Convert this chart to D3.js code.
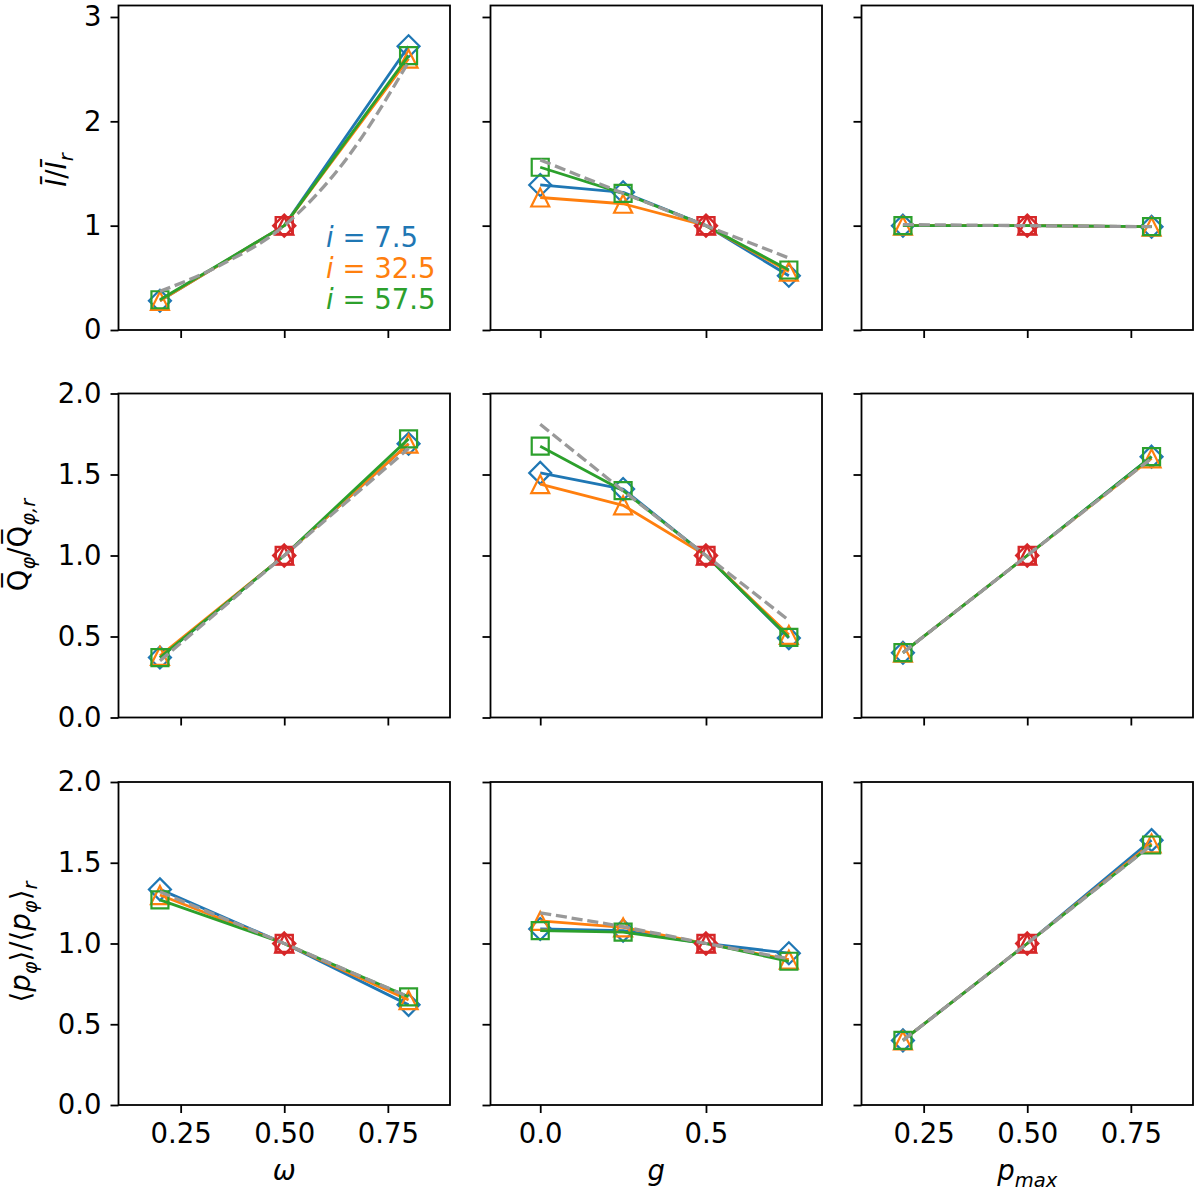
<!DOCTYPE html>
<html><head><meta charset="utf-8">
<script src="https://cdn.jsdelivr.net/npm/d3@7"></script>
<style>
body{margin:0;background:#fff}
text{font-family:"DejaVu Sans",sans-serif;fill:#000}
</style>
</head><body>
<svg id="chart" width="1200" height="1196"></svg>
<script>
// ---------------- DATA ----------------
const omegaX = [0.2, 0.5, 0.8];
const gX = [0.0, 0.25, 0.5, 0.75];
const pmaxX = [0.2, 0.5, 0.8];
const omegaModelX = [0.2, 0.35, 0.5, 0.65, 0.8];

const inclinationLabels = ["7.5", "32.5", "57.5"];
const referenceX = [0.5, 0.5, 0.5];
const referenceY = 1.0;

// Row 1: I / I_r
const I_omega_i1 = [0.28, 1.0, 2.72];
const I_omega_i2 = [0.28, 1.0, 2.60];
const I_omega_i3 = [0.29, 1.0, 2.63];
const I_omega_model = [0.37, 0.63, 1.0, 1.64, 2.57];
const I_g_i1 = [1.39, 1.32, 1.0, 0.52];
const I_g_i2 = [1.27, 1.21, 1.0, 0.56];
const I_g_i3 = [1.56, 1.31, 1.0, 0.575];
const I_g_model = [1.63, 1.31, 1.0, 0.69];
const I_pmax_i1 = [1.0, 1.0, 0.99];
const I_pmax_i2 = [1.0, 1.0, 0.99];
const I_pmax_i3 = [1.0, 1.0, 0.99];
const I_pmax_model = [1.01, 1.0, 0.99];

// Row 2: Q_phi / Q_phi,r
const Q_omega_i1 = [0.37, 1.0, 1.69];
const Q_omega_i2 = [0.38, 1.0, 1.69];
const Q_omega_i3 = [0.37, 1.0, 1.72];
const Q_omega_model = [0.35, 1.0, 1.66];
const Q_g_i1 = [1.51, 1.41, 1.0, 0.49];
const Q_g_i2 = [1.44, 1.31, 1.0, 0.51];
const Q_g_i3 = [1.675, 1.40, 1.0, 0.495];
const Q_g_model = [1.81, 1.40, 1.0, 0.60];
const Q_pmax_i1 = [0.40, 1.0, 1.61];
const Q_pmax_i2 = [0.40, 1.0, 1.60];
const Q_pmax_i3 = [0.40, 1.0, 1.61];
const Q_pmax_model = [0.40, 1.0, 1.60];

// Row 3: <p_phi> / <p_phi>_r
const p_omega_i1 = [1.335, 1.0, 0.62];
const p_omega_i2 = [1.30, 1.0, 0.65];
const p_omega_i3 = [1.27, 1.0, 0.67];
const p_omega_model = [1.32, 1.0, 0.67];
const p_g_i1 = [1.09, 1.08, 1.0, 0.94];
const p_g_i2 = [1.14, 1.10, 1.0, 0.90];
const p_g_i3 = [1.08, 1.07, 1.0, 0.89];
const p_g_model = [1.19, 1.105, 1.0, 0.905];
const p_pmax_i1 = [0.40, 1.0, 1.64];
const p_pmax_i2 = [0.40, 1.0, 1.62];
const p_pmax_i3 = [0.40, 1.0, 1.61];
const p_pmax_model = [0.40, 1.0, 1.61];

// Axis ticks
const xTickValues = [[0.25, 0.5, 0.75], [0.0, 0.5], [0.25, 0.5, 0.75]];
const xTickLabels = [["0.25", "0.50", "0.75"], ["0.0", "0.5"], ["0.25", "0.50", "0.75"]];
const yTickValues = [[0, 1, 2, 3], [0, 0.5, 1, 1.5, 2], [0, 0.5, 1, 1.5, 2]];
const yTickLabels = [["0", "1", "2", "3"], ["0.0", "0.5", "1.0", "1.5", "2.0"], ["0.0", "0.5", "1.0", "1.5", "2.0"]];
const xDomains = [[0.1, 0.9], [-0.15, 0.85], [0.1, 0.9]];
const yDomains = [[0, 3.11], [0, 2], [0, 2]];

// ---------------- STYLE / LAYOUT ----------------
const colors = ["#1f77b4", "#ff7f0e", "#2ca02c"];
const refColor = "#d62728";
const modelColor = "#999999";
const colLeft = [118.5, 490.5, 861.5];
const colW = 331.5;
const rowTop = [5.5, 393.5, 782];
const rowH = [324.5, 324, 323];
const FS = 27.5;

const panels = [
  [ {x: omegaX, s: [I_omega_i1, I_omega_i2, I_omega_i3], mx: omegaModelX, m: I_omega_model, smooth: true},
    {x: gX, s: [I_g_i1, I_g_i2, I_g_i3], mx: gX, m: I_g_model},
    {x: pmaxX, s: [I_pmax_i1, I_pmax_i2, I_pmax_i3], mx: pmaxX, m: I_pmax_model} ],
  [ {x: omegaX, s: [Q_omega_i1, Q_omega_i2, Q_omega_i3], mx: omegaX, m: Q_omega_model},
    {x: gX, s: [Q_g_i1, Q_g_i2, Q_g_i3], mx: gX, m: Q_g_model},
    {x: pmaxX, s: [Q_pmax_i1, Q_pmax_i2, Q_pmax_i3], mx: pmaxX, m: Q_pmax_model} ],
  [ {x: omegaX, s: [p_omega_i1, p_omega_i2, p_omega_i3], mx: omegaX, m: p_omega_model},
    {x: gX, s: [p_g_i1, p_g_i2, p_g_i3], mx: gX, m: p_g_model},
    {x: pmaxX, s: [p_pmax_i1, p_pmax_i2, p_pmax_i3], mx: pmaxX, m: p_pmax_model} ]
];

function markerPath(kind, cx, cy) {
  if (kind === 0) { const h = 11; return `M${cx},${cy-h}L${cx+h},${cy}L${cx},${cy+h}L${cx-h},${cy}Z`; }
  if (kind === 1) { const h = 9; return `M${cx},${cy-h}L${cx+h},${cy+h}L${cx-h},${cy+h}Z`; }
  const h = 8.5; return `M${cx-h},${cy-h}L${cx+h},${cy-h}L${cx+h},${cy+h}L${cx-h},${cy+h}Z`;
}

const svg = d3.select("#chart");

panels.forEach((row, r) => {
  row.forEach((p, c) => {
    const W = colW, H = rowH[r];
    const g = svg.append("g").attr("transform", `translate(${colLeft[c]},${rowTop[r]})`);
    const x = d3.scaleLinear().domain(xDomains[c]).range([0, W]);
    const y = d3.scaleLinear().domain(yDomains[r]).range([H, 0]);

    const ax = g.append("g").attr("transform", `translate(0,${H})`)
      .call(d3.axisBottom(x).tickValues(xTickValues[c]).tickSize(8).tickPadding(10)
        .tickFormat((d, i) => r === 2 ? xTickLabels[c][i] : ""));
    const ay = g.append("g")
      .call(d3.axisLeft(y).tickValues(yTickValues[r]).tickSize(8).tickPadding(9)
        .tickFormat((d, i) => c === 0 ? yTickLabels[r][i] : ""));
    [ax, ay].forEach(a => {
      a.select(".domain").remove();
      a.selectAll(".tick line").attr("stroke", "#000").attr("stroke-width", 1.8);
      a.selectAll(".tick text").attr("font-size", FS).attr("font-family", "DejaVu Sans").attr("fill", "#000");
    });

    p.s.forEach((vals, k) => {
      const line = d3.line().x((d, i) => x(p.x[i])).y(d => y(d));
      g.append("path").attr("d", line(vals)).attr("fill", "none")
        .attr("stroke", colors[k]).attr("stroke-width", 2.8).attr("stroke-linejoin", "round");
      vals.forEach((v, i) => {
        if (p.x[i] === referenceX[c]) return;
        g.append("path").attr("d", markerPath(k, x(p.x[i]), y(v)))
          .attr("fill", "none").attr("stroke", colors[k]).attr("stroke-width", 2.2);
      });
    });
    [0, 1, 2].forEach(k => {
      g.append("path").attr("d", markerPath(k, x(referenceX[c]), y(referenceY)))
        .attr("fill", "none").attr("stroke", refColor).attr("stroke-width", 2.4);
    });
    const mline = d3.line().x((d, i) => x(p.mx[i])).y(d => y(d))
      .curve(p.smooth ? d3.curveMonotoneX : d3.curveLinear);
    g.append("path").attr("d", mline(p.m)).attr("fill", "none")
      .attr("stroke", modelColor).attr("stroke-width", 3.3).attr("stroke-dasharray", "11.1,4.8");

    g.append("rect").attr("x", 0).attr("y", 0).attr("width", W).attr("height", H)
      .attr("fill", "none").attr("stroke", "#000").attr("stroke-width", 1.8);
  });
});

// ---------------- LABELS ----------------
function richText(sel, parts) {
  let shift = 0;
  parts.forEach(pt => {
    const target = pt.sub ? 7 : 0;
    const ts = sel.append("tspan").text(pt.t)
      .attr("font-size", pt.sub ? 19.5 : FS)
      .attr("font-style", pt.it ? "italic" : "normal");
    if (target !== shift) { ts.attr("dy", target - shift); shift = target; }
  });
}

const yl1 = svg.append("text").attr("transform", "translate(66,170) rotate(-90)").attr("text-anchor", "middle");
richText(yl1, [{t: "Ī", it: true}, {t: "/"}, {t: "Ī", it: true}, {t: "r", it: true, sub: true}]);
const yl2 = svg.append("text").attr("transform", "translate(28,545) rotate(-90)").attr("text-anchor", "middle");
richText(yl2, [{t: "Q\u0305"}, {t: "φ", it: true, sub: true}, {t: "/Q\u0305"}, {t: "φ,", it: true, sub: true}, {t: "r", it: true, sub: true}]);
const yl3 = svg.append("text").attr("transform", "translate(30,942) rotate(-90)").attr("text-anchor", "middle");
richText(yl3, [{t: "⟨"}, {t: "p", it: true}, {t: "φ", it: true, sub: true}, {t: "⟩/⟨"}, {t: "p", it: true}, {t: "φ", it: true, sub: true}, {t: "⟩"}, {t: "r", it: true, sub: true}]);

const xl1 = svg.append("text").attr("x", colLeft[0] + colW / 2).attr("y", 1180).attr("text-anchor", "middle");
richText(xl1, [{t: "ω", it: true}]);
const xl2 = svg.append("text").attr("x", colLeft[1] + colW / 2).attr("y", 1180).attr("text-anchor", "middle");
richText(xl2, [{t: "g", it: true}]);
const xl3 = svg.append("text").attr("x", colLeft[2] + colW / 2).attr("y", 1180).attr("text-anchor", "middle");
richText(xl3, [{t: "p", it: true}, {t: "max", it: true, sub: true}]);

const legendBaselines = [247, 278, 308.5];
inclinationLabels.forEach((lab, k) => {
  const t = svg.append("text").attr("x", 326).attr("y", legendBaselines[k]).attr("font-size", FS);
  t.append("tspan").text("i").attr("font-style", "italic").attr("fill", colors[k]);
  t.append("tspan").text(" = " + lab).attr("fill", colors[k]);
});
</script>
</body></html>
